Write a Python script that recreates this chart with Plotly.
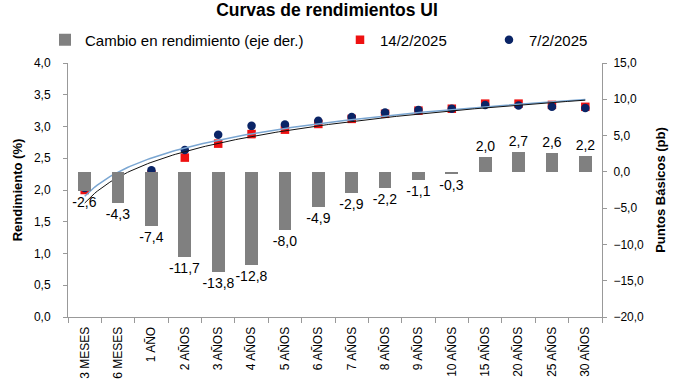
import numpy as np
import plotly.graph_objects as go

categories = ["3 MESES", "6 MESES", "1 AÑO", "2 AÑOS", "3 AÑOS", "4 AÑOS", "5 AÑOS", "6 AÑOS",
              "7 AÑOS", "8 AÑOS", "9 AÑOS", "10 AÑOS", "15 AÑOS", "20 AÑOS", "25 AÑOS", "30 AÑOS"]
cambio_pb = [-2.6, -4.3, -7.4, -11.7, -13.8, -12.8, -8.0, -4.9, -2.9, -2.2, -1.1, -0.3, 2.0, 2.7, 2.6, 2.2]
rend_14feb = [2.00, 2.07, 2.24, 2.51, 2.73, 2.88, 2.95, 3.04, 3.12, 3.20, 3.25, 3.28, 3.36, 3.36, 3.34, 3.31]
rend_7feb = [2.03, 2.11, 2.31, 2.63, 2.87, 3.01, 3.03, 3.09, 3.15, 3.22, 3.26, 3.28, 3.34, 3.33, 3.31, 3.29]

idx = np.arange(1, len(categories) + 1)
xs = np.linspace(1, len(categories), 200)

def log_fit(vals):
    a, b = np.polyfit(np.log(idx), np.array(vals), 1)
    return a * np.log(xs) + b

font_family = "Liberation Sans, Arial, sans-serif"

fig = go.Figure()
fig.add_trace(go.Bar(
    x=idx, y=cambio_pb, name="Cambio en rendimiento (eje der.)", yaxis="y2", legend="legend",
    marker=dict(color="#808080", line=dict(width=0)), width=0.38,
    texttemplate="%{y:.1f}", textposition="outside", cliponaxis=False, constraintext="none",
    textfont=dict(size=14, color="#000000", family=font_family),
))
fig.add_trace(go.Scatter(
    x=idx, y=rend_14feb, name="14/2/2025", mode="markers", legend="legend2",
    marker=dict(symbol="square", size=8.5, color="#ee1111"),
))
fig.add_trace(go.Scatter(
    x=idx, y=rend_7feb, name="7/2/2025", mode="markers", legend="legend3",
    marker=dict(symbol="circle", size=8.5, color="#0a2466"),
))
fig.add_trace(go.Scatter(
    x=xs, y=log_fit(rend_7feb), mode="lines", showlegend=False, hoverinfo="skip",
    line=dict(color="#7aa6d2", width=1.5),
))
fig.add_trace(go.Scatter(
    x=xs, y=log_fit(rend_14feb), mode="lines", showlegend=False, hoverinfo="skip",
    line=dict(color="#111111", width=1),
))

def leg(xpx):
    return dict(orientation="h", x=xpx / 685, xanchor="left", xref="container",
                y=1 - 40 / 388, yanchor="middle", yref="container",
                font=dict(size=15, color="#000000"), itemwidth=30,
                bgcolor="rgba(0,0,0,0)")

fig.update_layout(
    width=685, height=388,
    margin=dict(l=68, r=83, t=63, b=71, autoexpand=False),
    paper_bgcolor="white", plot_bgcolor="white",
    separators=",.",
    font=dict(family=font_family, size=12, color="#000000"),
    title=dict(text="<b>Curvas de rendimientos UI</b>", x=327 / 685, xanchor="center", xref="container",
               y=1 - 10 / 388, yanchor="middle", yref="container",
               font=dict(size=17.5, color="#000000", family=font_family)),
    legend=leg(45), legend2=leg(340), legend3=leg(489),
    bargap=0,
    showlegend=True,
    xaxis=dict(
        range=[0.5, len(categories) + 0.5], tickmode="array", tickvals=idx, ticktext=categories,
        tickangle=-90, ticks="", showgrid=False, zeroline=False, automargin=False,
        showline=True, linecolor="#999999", linewidth=1, ticklabelstandoff=4,
        tickfont=dict(size=12, color="#000000"),
        minor=dict(tickmode="linear", tick0=0.5, dtick=1, ticks="outside", ticklen=5,
                   tickcolor="#999999", showgrid=False),
    ),
    yaxis=dict(
        range=[0, 4], dtick=0.5, tickformat=".1f", showgrid=False, zeroline=False, automargin=False,
        showline=True, linecolor="#999999", linewidth=1, ticks="outside", ticklen=4,
        tickcolor="#999999", tickfont=dict(size=12, color="#000000"), ticklabelstandoff=10,
        title=dict(text="<b>Rendimiento (%)</b>", font=dict(size=13), standoff=8),
    ),
    yaxis2=dict(
        range=[-20, 15], dtick=5, tickformat=".1f", overlaying="y", side="right", automargin=False,
        showgrid=False, zeroline=False,
        showline=True, linecolor="#999999", linewidth=1, ticks="outside", ticklen=4,
        tickcolor="#999999", tickfont=dict(size=12, color="#000000"), ticklabelstandoff=4,
        title=dict(text="<b>Puntos Básicos (pb)</b>", font=dict(size=13), standoff=12),
    ),
)

fig.write_html("out.html", config={"displayModeBar": False},
               post_script="document.body.style.margin='0px';")
